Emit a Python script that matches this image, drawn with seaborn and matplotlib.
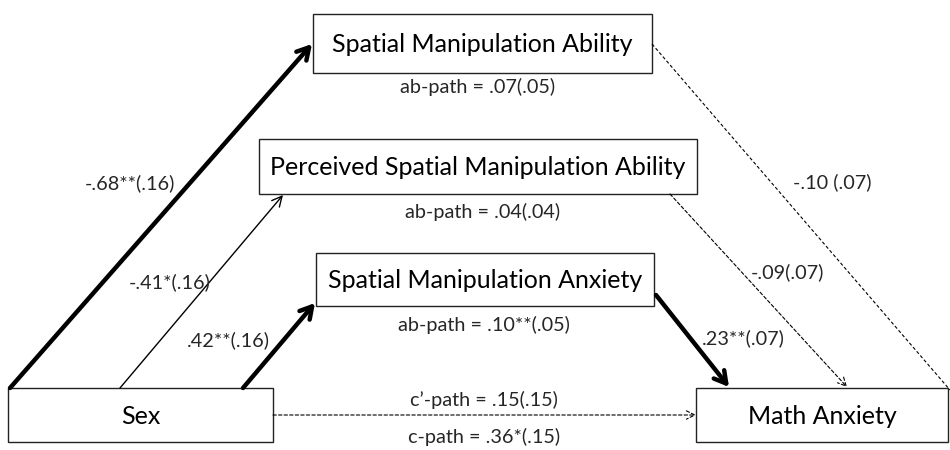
import matplotlib
matplotlib.use("Agg")
import matplotlib.pyplot as plt
import seaborn as sns

# node labels
nodes = ["Spatial Manipulation Ability",
         "Perceived Spatial Manipulation Ability",
         "Spatial Manipulation Anxiety",
         "Sex",
         "Math Anxiety"]

# path coefficients
a_paths = ["-.68**(.16)", "-.41*(.16)", ".42**(.16)"]
b_paths = ["-.10 (.07)", "-.09(.07)", ".23**(.07)"]
ab_paths = ["ab-path = .07(.05)", "ab-path = .04(.04)", "ab-path = .10**(.05)"]
c_prime = "c\u2019-path = .15(.15)"
c_total = "c-path = .36*(.15)"

# layout (pixel coordinates, y down): x0, y0, x1, y1
boxes = [(313, 14, 652, 73),
         (259, 139, 697, 194),
         (316, 253, 654, 306),
         (8, 388, 273, 442),
         (696, 388, 948, 442)]

sns.set_theme(style="white")
plt.rcParams['font.family'] = ['Lato', 'DejaVu Sans']

fig = plt.figure(figsize=(9.5, 4.5), dpi=100)
ax = fig.add_axes([0, 0, 1, 1])
ax.set_xlim(0, 950)
ax.set_ylim(450, 0)
ax.axis("off")

for name, (x0, y0, x1, y1) in zip(nodes, boxes):
    ax.add_patch(plt.Rectangle((x0, y0), x1 - x0, y1 - y0, fill=False,
                               edgecolor="#222222", lw=1.0))
    ax.text((x0 + x1) / 2, (y0 + y1) / 2 + 1, name, ha="center", va="center",
            fontsize=18, color="black")

def arrow(p0, p1, lw, dashed=False, head="->, head_length=0.7, head_width=0.4"):
    ax.annotate("", xy=p1, xytext=p0,
                arrowprops=dict(arrowstyle=head, lw=lw, color="black",
                                linestyle=(0, (3, 2)) if dashed else "-",
                                shrinkA=0, shrinkB=0))

# a paths
arrow((10, 388), (312, 44), 3.2)
arrow((120, 388), (283, 195), 1.0, head="->, head_length=0.6, head_width=0.3")
arrow((243, 388), (315, 303), 3.2)
# b paths
ax.plot([652, 950], [44, 390], color="black", lw=0.8, ls=(0, (3, 2)))
arrow((670, 194), (847, 387), 0.8, dashed=True, head="->, head_length=0.5, head_width=0.25")
arrow((656, 295), (729, 387), 3.2)
# c' path
arrow((273, 415), (696, 415), 0.8, dashed=True, head="->, head_length=0.5, head_width=0.25")

fs = 14.3
ax.text(130, 183, a_paths[0], ha="center", va="center", fontsize=fs)
ax.text(170, 282, a_paths[1], ha="center", va="center", fontsize=fs)
ax.text(228, 340, a_paths[2], ha="center", va="center", fontsize=fs)
ax.text(832, 182, b_paths[0], ha="center", va="center", fontsize=fs)
ax.text(787, 272, b_paths[1], ha="center", va="center", fontsize=fs)
ax.text(743, 338, b_paths[2], ha="center", va="center", fontsize=fs)
ax.text(478, 87, ab_paths[0], ha="center", va="center", fontsize=fs)
ax.text(483, 212, ab_paths[1], ha="center", va="center", fontsize=fs)
ax.text(484, 325, ab_paths[2], ha="center", va="center", fontsize=fs)
ax.text(484, 400, c_prime, ha="center", va="center", fontsize=fs)
ax.text(484, 437, c_total, ha="center", va="center", fontsize=fs)

fig.savefig("out.png", dpi=100, facecolor="white")
